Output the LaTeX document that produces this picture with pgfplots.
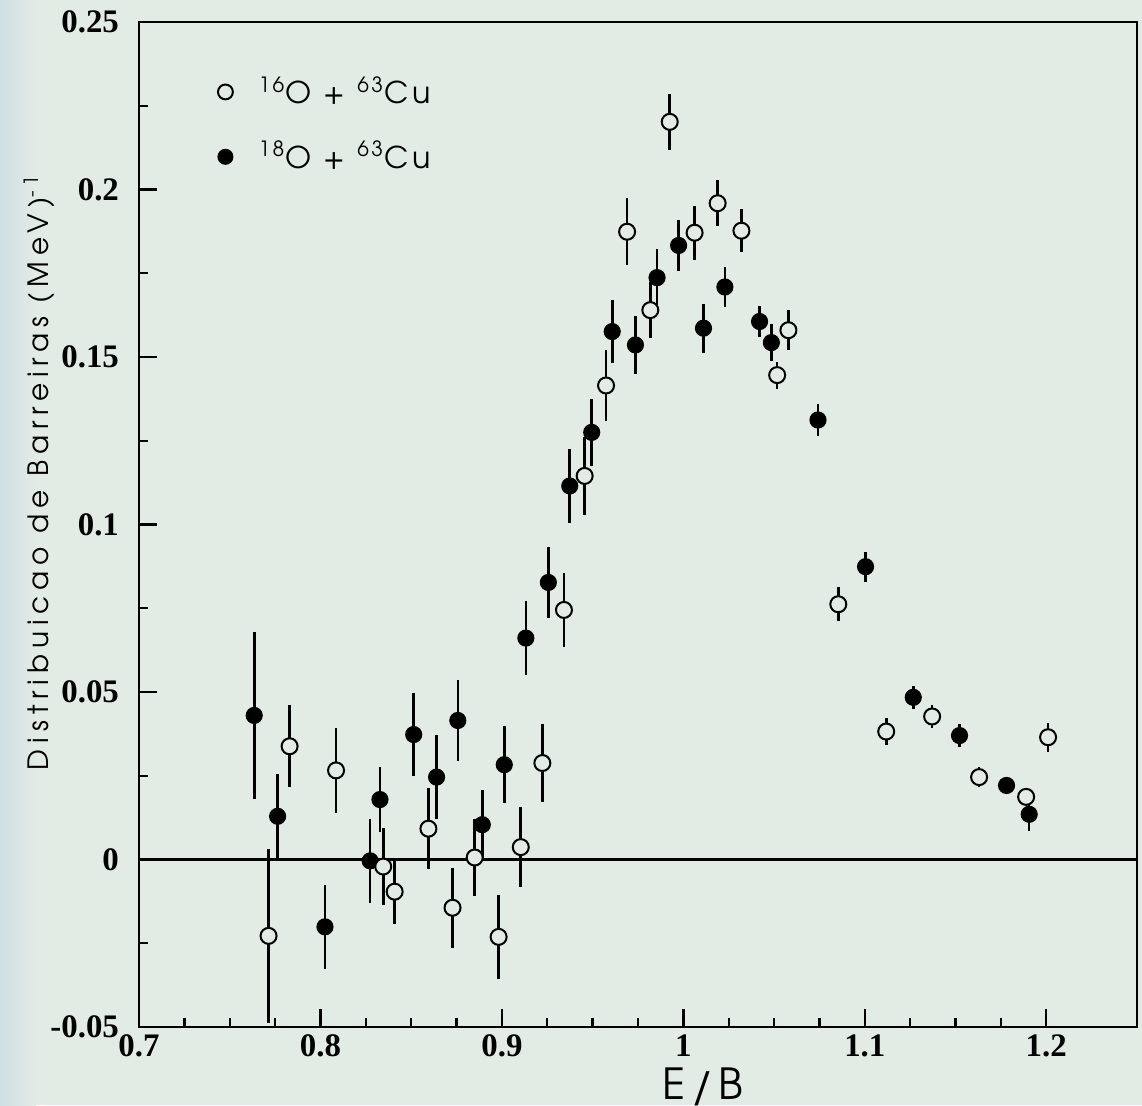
\documentclass[border=0pt]{standalone}
\usepackage{fontspec}
\setmainfont{Liberation Serif}
\newfontfamily\ylabfont{TeX Gyre Adventor}[LetterSpace=21]
\newfontfamily\xlabfont{TeX Gyre Adventor}[LetterSpace=12]
\newfontfamily\legfont{TeX Gyre Adventor}[LetterSpace=12]
\usepackage{pgfplots}
\usepackage{pgfplotstable}
\pgfplotsset{compat=1.18}

\definecolor{paper}{RGB}{227,235,229}
\definecolor{edge}{RGB}{208,222,228}

% 18O + 63Cu (filled)
\pgfplotstableread{
x y ey
0.7635 0.0430 0.0250
0.7764 0.0129 0.0125
0.8025 -0.0201 0.0126
0.8274 -0.0004 0.0126
0.8328 0.0179 0.0096
0.8514 0.0373 0.0125
0.8640 0.0246 0.0126
0.8757 0.0415 0.0120
0.8892 0.0104 0.0104
0.9013 0.0283 0.0115
0.9132 0.0661 0.0110
0.9256 0.0827 0.0105
0.9374 0.1115 0.0110
0.9495 0.1275 0.0100
0.9608 0.1576 0.0093
0.9736 0.1536 0.0087
0.9855 0.1737 0.0084
0.9974 0.1833 0.0076
1.0111 0.1586 0.0073
1.0229 0.1709 0.0060
1.0420 0.1606 0.0047
1.0485 0.1543 0.0056
1.0742 0.1312 0.0048
1.1004 0.0874 0.0045
1.1267 0.0484 0.0035
1.1522 0.0370 0.0034
1.1781 0.0221 0.0020
1.1906 0.0135 0.0049
}\heavy

% 16O + 63Cu (open)
\pgfplotstableread{
x y ey
0.7714 -0.0228 0.0260
0.7830 0.0338 0.0123
0.8086 0.0266 0.0127
0.8346 -0.0021 0.0115
0.8409 -0.0096 0.0097
0.8595 0.0092 0.0120
0.8728 -0.0144 0.0120
0.8850 0.0006 0.0115
0.8982 -0.0231 0.0125
0.9104 0.0037 0.0120
0.9223 0.0288 0.0117
0.9342 0.0745 0.0110
0.9456 0.1145 0.0117
0.9574 0.1415 0.0107
0.9690 0.1874 0.0100
0.9818 0.1640 0.0084
0.9925 0.2202 0.0083
1.0062 0.1871 0.0080
1.0189 0.1959 0.0068
1.0320 0.1877 0.0065
1.0517 0.1446 0.0040
1.0579 0.1580 0.0060
1.0854 0.0762 0.0050
1.1118 0.0382 0.0040
1.1371 0.0427 0.0034
1.1630 0.0246 0.0030
1.1889 0.0187 0.0025
1.2010 0.0365 0.0043
}\light

\begin{document}
\begin{tikzpicture}
\path[use as bounding box, fill=paper] (-48.65pt,-27.3pt) rectangle (351.05pt,359.45pt);
\shade[left color=edge, right color=paper] (-48.65pt,-27.3pt) rectangle (-36pt,359.45pt);
\begin{axis}[
  scale only axis,
  width=349.3pt, height=351.75pt,
  xmin=0.7, xmax=1.25, ymin=-0.05, ymax=0.25,
  axis line style={line width=0.8pt},
  tick pos=left, tick align=inside,
  xtick={0.7,0.8,0.9,1,1.1,1.2},
  xticklabels={0.7,0.8,0.9,1,1.1,1.2},
  ytick={-0.05,0,0.05,0.1,0.15,0.2,0.25},
  yticklabels={-0.05,0,0.05,0.1,0.15,0.2,0.25},
  minor x tick num=3, minor y tick num=1,
  major tick length=6.3pt, minor tick length=3.2pt,
  major tick style={line width=0.8pt, black},
  minor tick style={line width=0.8pt, black},
  /pgf/number format/assume math mode=true,
  ticklabel style={font=\bfseries\fontsize{11.5}{13}\selectfont},
  yticklabel style={xshift=-3.5pt},
  xticklabel style={yshift=-1.5pt, inner ysep=1pt},
  xlabel={E/B},
  xlabel style={at={(axis description cs:0.565,0)}, anchor=center, yshift=-21pt,
    inner sep=0pt, font=\xlabfont\fontsize{15}{17}\selectfont},
  ylabel={Distribuicao de Barreiras (MeV)\textsuperscript{-1}},
  ylabel style={at={(axis description cs:-0.1,0.552)}, anchor=center,
    font=\ylabfont\fontsize{9.8}{12}\selectfont},
  legend style={at={(axis description cs:0.07,0.958)}, anchor=north west,
    draw=none, fill=none, row sep=7.7pt,
    /tikz/every odd column/.append style={column sep=7pt},
    font=\legfont\fontsize{10.5}{13}\selectfont},
  legend cell align=left,
]
\addplot[black, line width=0.8pt, forget plot] coordinates {(0.7,0) (1.25,0)};

\addlegendimage{only marks, mark=*, mark size=2.6pt, mark options={fill=paper, draw=black, line width=0.7pt}}
\addlegendentry{\textsuperscript{16}O + \textsuperscript{63}Cu}
\addlegendimage{only marks, mark=*, mark size=2.6pt, mark options={fill=black, draw=black}}
\addlegendentry{\textsuperscript{18}O + \textsuperscript{63}Cu}

\addplot[forget plot, only marks, mark=*, mark size=2.8pt, black,
  error bars/.cd, y dir=both, y explicit, error mark=none,
  error bar style={line width=0.9pt, black}]
  table[x=x, y=y, y error=ey] {\heavy};
\addplot[forget plot, only marks, mark=*, mark size=2.8pt, black,
  mark options={fill=paper, draw=black, line width=0.7pt},
  error bars/.cd, y dir=both, y explicit, error mark=none,
  error bar style={line width=0.9pt, black}]
  table[x=x, y=y, y error=ey] {\light};
\end{axis}
\end{tikzpicture}
\end{document}
